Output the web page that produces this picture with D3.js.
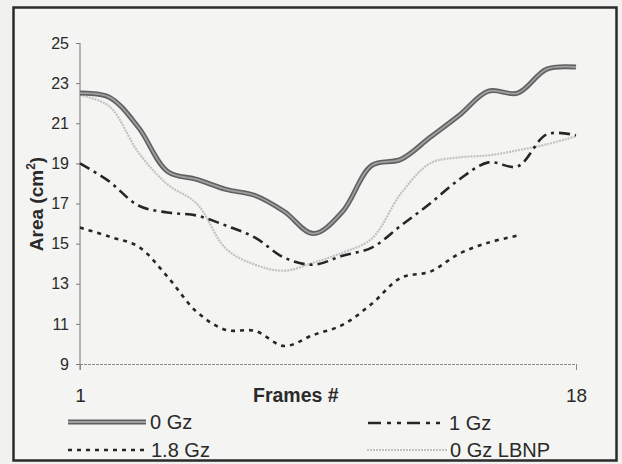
<!DOCTYPE html>
<html>
<head>
<meta charset="utf-8">
<script src="https://cdn.jsdelivr.net/npm/d3@7"></script>
<style>
  body { margin: 0; background: #f1f1ef; }
  text { font-family: "Liberation Sans", Arial, sans-serif; fill: #2a2a2a; }
</style>
</head>
<body>
<div id="chart"></div>
<script>
// frames on the x axis
var frames = [1, 2, 3, 4, 5, 6, 7, 8, 9, 10, 11, 12, 13, 14, 15, 16, 17, 18];

// area values (cm^2)
var gz0 = [22.5, 22.3, 20.8, 18.6, 18.2, 17.7, 17.4, 16.6, 15.5, 16.6, 18.9, 19.2, 20.3, 21.4, 22.6, 22.5, 23.7, 23.8];
var gz1 = [19.0, 18.1, 16.9, 16.55, 16.4, 15.9, 15.3, 14.3, 13.95, 14.4, 14.8, 15.9, 17.0, 18.2, 19.05, 18.85, 20.45, 20.4];
var gz18 = [15.8, 15.35, 14.85, 13.35, 11.6, 10.7, 10.65, 9.9, 10.45, 10.95, 12.0, 13.3, 13.6, 14.5, 15.05, 15.4];
var gz0lbnp = [22.4, 21.85, 19.55, 17.95, 17.0, 14.75, 13.95, 13.65, 14.05, 14.55, 15.25, 17.5, 19.0, 19.3, 19.4, 19.65, 19.95, 20.35];

var yTicks = [9, 11, 13, 15, 17, 19, 21, 23, 25];
var xTicks = [1, 18];

var svgWidth = 622;
var svgHeight = 464;

var svg = d3.select("#chart")
  .append("svg")
  .attr("width", svgWidth)
  .attr("height", svgHeight);

// outer frame
svg.append("rect")
  .attr("x", 13.5)
  .attr("y", 7.5)
  .attr("width", 603)
  .attr("height", 453)
  .attr("fill", "#f4f4f2")
  .attr("stroke", "#2b2b2b")
  .attr("stroke-width", 2.5);

var x = d3.scaleLinear().domain([1, 18]).range([80, 576]);
var y = d3.scaleLinear().domain([9, 25]).range([364, 43]);

// y axis
var yAxis = svg.append("g")
  .attr("transform", "translate(80,0)")
  .call(d3.axisLeft(y).tickValues(yTicks).tickSize(4).tickPadding(7));
yAxis.select(".domain").remove();
yAxis.selectAll("line").attr("stroke", "#777");
yAxis.selectAll("text").style("font-size", "16px").attr("fill", "#333");
svg.append("line")
  .attr("x1", 80).attr("x2", 80)
  .attr("y1", y(25)).attr("y2", 370)
  .attr("stroke", "#888").attr("stroke-width", 1.2);

// x axis
var xAxis = svg.append("g")
  .attr("transform", "translate(0," + y(9) + ")")
  .call(d3.axisBottom(x).tickValues(xTicks).tickSize(6).tickPadding(19));
xAxis.select(".domain")
  .attr("stroke", "#8a8a8a")
  .attr("stroke-dasharray", "3,1")
  .attr("d", "M" + x(1) + ",0.5H" + x(18));
xAxis.selectAll("line").attr("stroke", "#888");
xAxis.selectAll("text").style("font-size", "19px").attr("fill", "#333");

// axis titles
svg.append("text")
  .attr("x", 253)
  .attr("y", 402)
  .style("font-size", "19.5px")
  .style("font-weight", "bold")
  .text("Frames #");

var yTitle = svg.append("text")
  .attr("transform", "translate(43,204) rotate(-90)")
  .attr("text-anchor", "middle")
  .style("font-size", "19px")
  .style("font-weight", "bold");
yTitle.append("tspan").text("Area (cm");
yTitle.append("tspan").attr("dy", -8).style("font-size", "12px").text("2");
yTitle.append("tspan").attr("dy", 8).text(")");

var line = d3.line()
  .x(function(d, i) { return x(frames[i]); })
  .y(function(d) { return y(d); })
  .curve(d3.curveCatmullRom.alpha(0.5));

// series styles
var series = [
  { name: "0 Gz LBNP", values: gz0lbnp, color: "#c2c2c2", width: 2.2, dash: "2,1" },
  { name: "1.8 Gz", values: gz18, color: "#262626", width: 2.6, dash: "4,5" },
  { name: "1 Gz", values: gz1, color: "#262626", width: 2.6, dash: "11,5,3,5" },
  { name: "0 Gz", values: gz0, color: "#606060", width: 5, dash: null }
];

series.forEach(function(s) {
  svg.append("path")
    .datum(s.values)
    .attr("fill", "none")
    .attr("stroke", s.color)
    .attr("stroke-width", s.width)
    .attr("stroke-dasharray", s.dash)
    .attr("d", line);
  if (s.name === "0 Gz") {
    svg.append("path")
      .datum(s.values)
      .attr("fill", "none")
      .attr("stroke", "#a0a0a0")
      .attr("stroke-width", 1.8)
      .attr("d", line);
  }
});

// legend
var legend = [
  { name: "0 Gz", x1: 68, x2: 146, y: 422, tx: 150 },
  { name: "1.8 Gz", x1: 68, x2: 148, y: 450, tx: 151 },
  { name: "1 Gz", x1: 368, x2: 446, y: 423, tx: 449 },
  { name: "0 Gz LBNP", x1: 367, x2: 447, y: 450, tx: 450 }
];

legend.forEach(function(l) {
  var s = series.filter(function(d) { return d.name === l.name; })[0];
  svg.append("line")
    .attr("x1", l.x1).attr("x2", l.x2)
    .attr("y1", l.y).attr("y2", l.y)
    .attr("stroke", s.color)
    .attr("stroke-width", s.width)
    .attr("stroke-dasharray", s.name === "1 Gz" ? "13,6,4,6,4,6" : s.dash);
  if (s.name === "0 Gz") {
    svg.append("line")
      .attr("x1", l.x1).attr("x2", l.x2)
      .attr("y1", l.y).attr("y2", l.y)
      .attr("stroke", "#a0a0a0")
      .attr("stroke-width", 1.8);
  }
  svg.append("text")
    .attr("x", l.tx)
    .attr("y", l.y + 7)
    .style("font-size", "20px")
    .text(l.name);
});
</script>
</body>
</html>
